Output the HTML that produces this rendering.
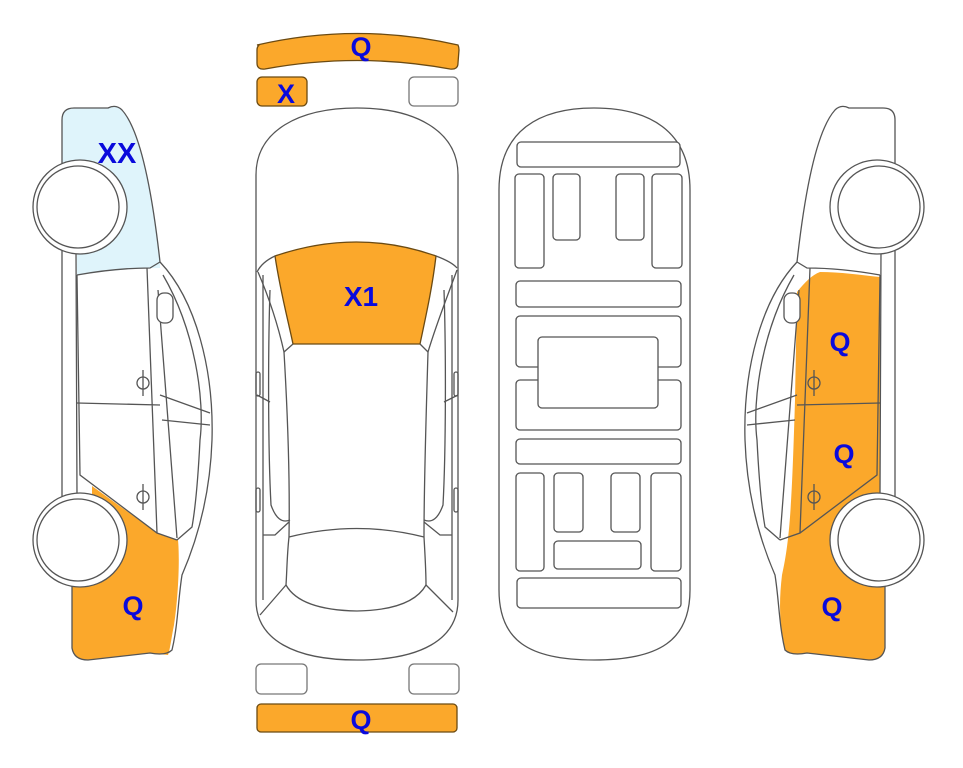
<!DOCTYPE html>
<html><head><meta charset="utf-8"><style>
html,body{margin:0;padding:0;background:#fff;}
svg{display:block;}
text{font-family:"Liberation Sans",Arial,sans-serif;font-weight:bold;fill:#0a0adc;text-anchor:middle;}
</style></head><body>
<svg width="963" height="768" viewBox="0 0 963 768" xmlns="http://www.w3.org/2000/svg">
<defs>
<g id="side" fill="none" stroke="#555" stroke-width="1.3">
  <path d="M62,250 L62,120 Q62,108 74,108 L108,108 Q116,104 122,110 C140,130 152,190 160,262 C196,300 214,370 212,440 C210,500 195,545 182,575 C178,600 178,625 172,650 Q166,656 150,653 L88,660 Q74,660 72,648 L72,585"/>
  <path d="M62,250 L62,497 M76,250 L77,497 M62,250 L78,250 M62,497 L78,497"/>
  <path d="M77,275 C105,270 128,268 150,268 L160,262"/>
  <path d="M147,268 L157,533 M158,290 L177,538 M77,403 L160,405"/>
  <path d="M160,395 L210,413 M162,420 L210,425"/>
  <path d="M163,275 C195,330 205,400 200,440 C198,480 195,510 192,527 L177,540"/>
  <path d="M77,275 L80,475 L157,533 L177,540"/>
  <rect x="157" y="293" width="16" height="30" rx="7" fill="#fff"/>
  <path d="M143,370 L143,396 M143,484 L143,510"/>
  <circle cx="143" cy="383" r="6"/><circle cx="143" cy="497" r="6"/>
  <circle cx="80" cy="207" r="47" fill="#fff"/>
  <circle cx="78" cy="207" r="41" fill="#fff"/>
  <circle cx="80" cy="540" r="47" fill="#fff"/>
  <circle cx="78" cy="540" r="41" fill="#fff"/>
</g>
</defs>

<!-- LEFT SIDE -->
<path d="M62,120 Q62,108 74,108 L108,108 Q116,104 122,110 C140,130 152,190 160,262 L160,268 C130,268 100,272 77,275 L77,250 L62,250 Z" fill="#dff4fb"/>
<path d="M92,486 L157,533 L178,540 C180,560 178,600 174,625 C171,640 170,650 168,655 L150,653 L88,660 Q74,660 72,648 L72,560 L92,560 Z" fill="#fba82b"/>
<use href="#side"/>
<text x="117" y="163" font-size="29">XX</text>
<text x="133" y="615" font-size="27">Q</text>

<!-- RIGHT SIDE -->
<path d="M797,292 C805,282 812,275 820,272 C840,272 860,275 880,277 L880,492 L865,502 L860,560 L885,560 L885,648 Q883,660 869,660 L807,653 Q791,656 785,650 C779,625 779,600 782,575 C790,540 792,500 795,400 Z" fill="#fba82b"/>
<use href="#side" transform="translate(957,0) scale(-1,1)"/>
<text x="840" y="351" font-size="27">Q</text>
<text x="844" y="463" font-size="27">Q</text>
<text x="832" y="616" font-size="27">Q</text>

<!-- TOP VIEW -->
<g fill="none" stroke="#555" stroke-width="1.3">
  <path d="M257,45 Q357,22 458,45 Q459,47 459,50 L458,63 Q458,70 450,69 Q357,52 265,69 Q257,70 257,63 L257,50 Q257,47 259,45 Z" fill="#fba82b" stroke="#6b4a12"/>
  <rect x="257" y="77" width="50" height="29" rx="5" fill="#fba82b" stroke="#6b4a12"/>
  <rect x="409" y="77" width="49" height="29" rx="5" stroke="#777"/>
  <rect x="256" y="664" width="51" height="30" rx="5" stroke="#777"/>
  <rect x="409" y="664" width="50" height="30" rx="5" stroke="#777"/>
  <rect x="257" y="704" width="200" height="28" rx="4" fill="#fba82b" stroke="#6b4a12"/>

  <path d="M256,175 C256,130 300,108 357,108 C414,108 458,130 458,175 L458,600 C458,640 420,660 357,660 C295,660 256,640 256,600 Z"/>
  <path d="M275,256 Q357,228 436,256 C432,290 425,320 420,344 L293,344 C288,320 280,290 275,256 Z" fill="#fba82b" stroke="#6b4a12"/>
  <path d="M257,272 Q262,262 275,256 M436,256 Q452,262 457,268"/>
  <path d="M258,272 C270,300 278,325 284,352 L293,344 M457,270 C446,300 436,325 428,352 L420,344"/>
  <path d="M263,275 L263,600 M452,275 L452,600"/>
  <path d="M270,290 C268,350 268,450 271,505 Q278,525 290,520 M444,290 C446,350 446,450 443,505 Q436,525 424,520"/>
  <path d="M284,352 C288,420 290,480 289,537 C287,555 287,570 286,585 M428,352 C426,420 424,480 424,537 C425,555 426,570 426,585"/>
  <path d="M289,537 Q357,520 424,537"/>
  <path d="M286,585 Q300,610 357,611 Q412,610 426,585"/>
  <path d="M286,585 L260,615 M426,585 L453,612"/>
  <path d="M263,535 L275,535 L289,522 M452,535 L440,535 L424,522"/>
  <path d="M257,395 L270,402 M458,395 L444,402"/>
  <rect x="256" y="372" width="4" height="24" rx="2"/><rect x="454" y="372" width="4" height="24" rx="2"/>
  <rect x="256" y="488" width="4" height="24" rx="2"/><rect x="454" y="488" width="4" height="24" rx="2"/>
</g>
<text x="361" y="56" font-size="27">Q</text>
<text x="286" y="103" font-size="27">X</text>
<text x="361" y="306" font-size="28">X1</text>
<text x="361" y="729" font-size="27">Q</text>

<!-- UNDERBODY -->
<g fill="#fff" stroke="#555" stroke-width="1.3">
  <path d="M499,190 C499,130 540,108 594,108 C648,108 690,130 690,190 L690,590 C690,640 660,660 594,660 C528,660 499,640 499,590 Z"/>
  <rect x="517" y="142" width="163" height="25" rx="4"/>
  <rect x="515" y="174" width="29" height="94" rx="4"/>
  <rect x="553" y="174" width="27" height="66" rx="4"/>
  <rect x="616" y="174" width="28" height="66" rx="4"/>
  <rect x="652" y="174" width="30" height="94" rx="4"/>
  <rect x="516" y="281" width="165" height="26" rx="4"/>
  <rect x="516" y="316" width="165" height="51" rx="4"/>
  <rect x="516" y="380" width="165" height="50" rx="4"/>
  <rect x="538" y="337" width="120" height="71" rx="4"/>
  <rect x="516" y="439" width="165" height="25" rx="4"/>
  <rect x="516" y="473" width="28" height="98" rx="4"/>
  <rect x="554" y="473" width="29" height="59" rx="4"/>
  <rect x="611" y="473" width="29" height="59" rx="4"/>
  <rect x="651" y="473" width="30" height="98" rx="4"/>
  <rect x="554" y="541" width="87" height="28" rx="4"/>
  <rect x="517" y="578" width="164" height="30" rx="4"/>
</g>
</svg>
</body></html>
